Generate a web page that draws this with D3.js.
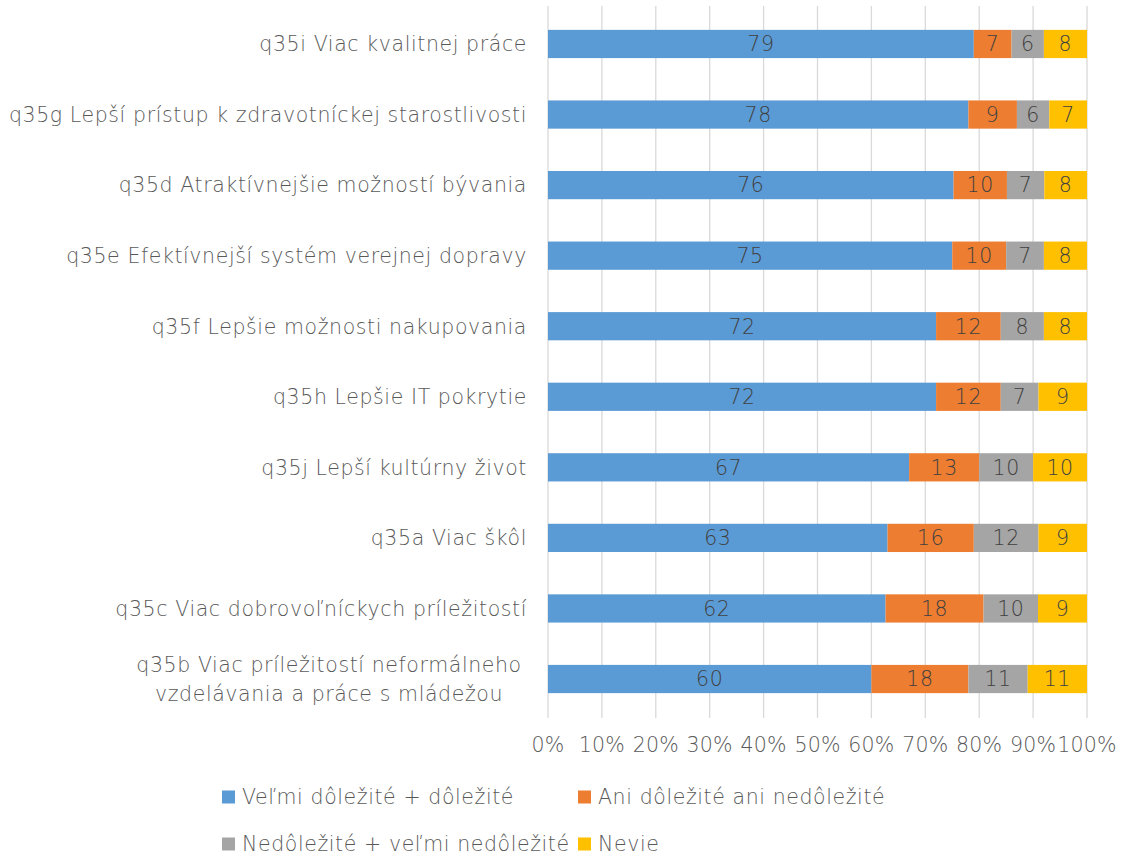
<!DOCTYPE html>
<html><head><meta charset="utf-8">
<script src="https://cdn.jsdelivr.net/npm/d3@7"></script>
<style>
body{margin:0;background:#fff;}
svg text{font-family:"DejaVu Sans",sans-serif;font-weight:200;fill:#595959;letter-spacing:0.6px;}
</style></head>
<body><svg id="c" width="1122" height="855"></svg>
<script>
const categories = [
  ["q35i Viac kvalitnej práce"],
  ["q35g Lepší prístup k zdravotníckej starostlivosti"],
  ["q35d Atraktívnejšie možností bývania"],
  ["q35e Efektívnejší systém verejnej dopravy"],
  ["q35f Lepšie možnosti nakupovania"],
  ["q35h Lepšie IT pokrytie"],
  ["q35j Lepší kultúrny život"],
  ["q35a Viac škôl"],
  ["q35c Viac dobrovoľníckych príležitostí"],
  ["q35b Viac príležitostí neformálneho", "vzdelávania a práce s mládežou"]
];
const seriesNames = ["Veľmi dôležité + dôležité","Ani dôležité ani nedôležité","Nedôležité + veľmi nedôležité","Nevie"];
const colors = ["#5b9bd5","#ed7d31","#a5a5a5","#ffc000"];
const veryImportant = [79,78,76,75,72,72,67,63,62,60];
const neither = [7,9,10,10,12,12,13,16,18,18];
const notImportant = [6,6,7,7,8,7,10,12,10,11];
const dontKnow = [8,7,8,8,8,9,10,9,9,11];
const tickLabels = ["0%","10%","20%","30%","40%","50%","60%","70%","80%","90%","100%"];

const series = [veryImportant, neither, notImportant, dontKnow];
const svg = d3.select("#c");
const x = d3.scaleLinear().domain([0,1]).range([548,1087]);
const y = d3.scaleBand().domain(d3.range(categories.length)).range([8.7,714.3]).paddingInner(0.6).paddingOuter(0.3);
const FS = "20.5px";

svg.append("g").selectAll("line").data(d3.range(11)).join("line")
  .attr("x1",d=>x(d/10)).attr("x2",d=>x(d/10)).attr("y1",6).attr("y2",718)
  .attr("stroke","#d9d9d9").attr("stroke-width",1.3);

categories.forEach((c,i)=>{
  const vals = series.map(s=>s[i]);
  const total = d3.sum(vals);
  let cum = 0;
  vals.forEach((v,k)=>{
    const x0 = x(cum/total), x1 = x((cum+v)/total);
    svg.append("rect").attr("x",x0).attr("y",y(i)).attr("width",x1-x0).attr("height",y.bandwidth()).attr("fill",colors[k]);
    svg.append("text").attr("x",(x0+x1)/2).attr("y",y(i)+y.bandwidth()/2).attr("dy","0.36em")
      .attr("text-anchor","middle").style("font-size",FS).style("fill","#404040").text(v);
    cum += v;
  });
  const cy = y(i)+y.bandwidth()/2;
  const multi = c.length>1;
  const t = svg.append("text").attr("text-anchor", multi?"middle":"end").style("font-size",FS);
  c.forEach((line,j)=>{
    t.append("tspan").attr("x", multi ? 329 : 527).attr("y", cy + (j-(c.length-1)/2)*29).attr("dy","0.36em").text(line);
  });
});

svg.append("g").selectAll("text").data(tickLabels).join("text")
  .attr("x",(d,i)=>x(i/10)).attr("y",745).attr("dy","0.36em").attr("text-anchor","middle")
  .style("font-size",FS).style("letter-spacing","0.2px").text(d=>d);

const legPos = [[222,797],[578,797],[222,844],[578,844]];
seriesNames.forEach((n,k)=>{
  const [lx,ly] = legPos[k];
  svg.append("rect").attr("x",lx).attr("y",ly-6.5).attr("width",13).attr("height",13).attr("fill",colors[k]);
  svg.append("text").attr("x",lx+20).attr("y",ly).attr("dy","0.36em").style("font-size",FS).text(n);
});
</script></body></html>
